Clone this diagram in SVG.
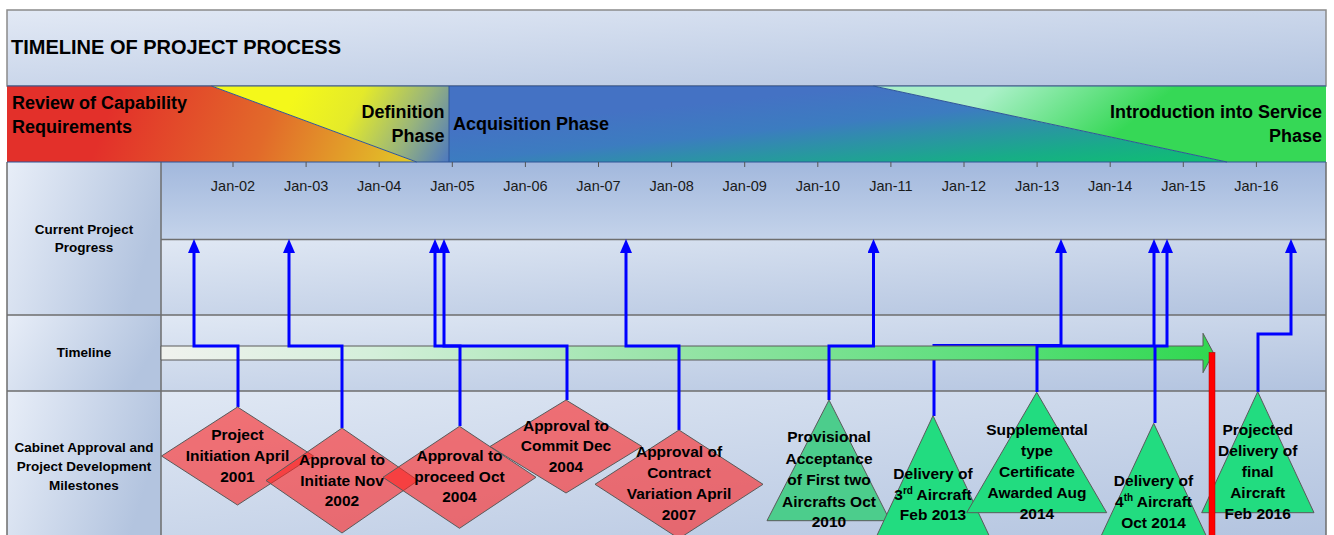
<svg xmlns="http://www.w3.org/2000/svg" width="1334" height="535" viewBox="0 0 1334 535">
<defs>
  <linearGradient id="gTitle" x1="0" y1="0" x2="1" y2="1">
    <stop offset="0" stop-color="#e2e9f5"/><stop offset="1" stop-color="#b3c4e0"/>
  </linearGradient>
  <linearGradient id="gMonths" x1="0" y1="0" x2="0" y2="1">
    <stop offset="0" stop-color="#a2b8dd"/><stop offset="1" stop-color="#c4d3ea"/>
  </linearGradient>
  <linearGradient id="gPale" x1="0" y1="0" x2="1" y2="1">
    <stop offset="0" stop-color="#e0e8f4"/><stop offset="1" stop-color="#b2c3df"/>
  </linearGradient>
  <linearGradient id="gLeft" x1="0" y1="0" x2="1" y2="0.3">
    <stop offset="0" stop-color="#e8eef8"/><stop offset="1" stop-color="#b3c4df"/>
  </linearGradient>
  <linearGradient id="gRed" gradientUnits="userSpaceOnUse" x1="120" y1="80" x2="410" y2="185">
    <stop offset="0" stop-color="#e3302a"/><stop offset="0.5" stop-color="#e26a2a"/><stop offset="1" stop-color="#e2cc28"/>
  </linearGradient>
  <linearGradient id="gYellow" gradientUnits="userSpaceOnUse" x1="300" y1="86" x2="449" y2="165">
    <stop offset="0" stop-color="#f4f81a"/><stop offset="0.35" stop-color="#e4ea2a"/><stop offset="0.7" stop-color="#98b47c"/><stop offset="1" stop-color="#4a76c2"/>
  </linearGradient>
  <linearGradient id="gAcq" gradientUnits="userSpaceOnUse" x1="873" y1="86" x2="884" y2="196">
    <stop offset="0" stop-color="#4472c4"/><stop offset="0.3" stop-color="#3c7cc0"/><stop offset="0.5" stop-color="#2c92a6"/><stop offset="0.75" stop-color="#18ac88"/><stop offset="1" stop-color="#0fc070"/>
  </linearGradient>
  <linearGradient id="gIntro" gradientUnits="userSpaceOnUse" x1="1000" y1="84" x2="1070" y2="172">
    <stop offset="0" stop-color="#aaf0c8"/><stop offset="1" stop-color="#36d856"/>
  </linearGradient>
  <linearGradient id="gBar" gradientUnits="userSpaceOnUse" x1="161" y1="0" x2="1213" y2="0">
    <stop offset="0" stop-color="#f0f2ee"/><stop offset="0.2" stop-color="#d4efda"/><stop offset="0.48" stop-color="#98e4a8"/><stop offset="0.8" stop-color="#58de78"/><stop offset="1" stop-color="#30d850"/>
  </linearGradient>
  <marker id="ah" markerUnits="userSpaceOnUse" markerWidth="14" markerHeight="12" viewBox="0 0 14 12" refX="0" refY="6" orient="auto">
    <path d="M0,0 L14,6 L0,12 z" fill="#0000ff"/>
  </marker>
</defs>
<style>
  text { font-family: "Liberation Sans", Arial, sans-serif; fill: #000; }
  .title { font-size: 20px; font-weight: bold; }
  .ph { font-size: 18px; font-weight: bold; }
  .phr { font-size: 18px; font-weight: bold; text-anchor: end; }
  .mon { font-size: 14.5px; text-anchor: middle; fill: #1a1a1a; }
  .rl { font-size: 13.5px; font-weight: bold; text-anchor: middle; }
  .ms { font-size: 15.5px; font-weight: bold; text-anchor: middle; }
  .sup { font-size: 10px; }
  .grid { stroke: #6e6e6e; stroke-width: 1.5; fill: none; }
  .pline { stroke: #2f5597; stroke-width: 1; fill: none; }
  .dia { fill: #fe2322; fill-opacity: 0.6; stroke: #5a5a5a; stroke-width: 1; }
  .tri { fill: #22dc80; stroke: #5a5a5a; stroke-width: 1; }
  .tri1 { fill: #4ccd8c; stroke: #5a5a5a; stroke-width: 1; }
  .con { fill: none; stroke: #0000ff; stroke-width: 3; marker-end: url(#ah); }
  .tick { stroke: #555; stroke-width: 1; }
</style>

<g id="background">
  <rect x="7" y="10" width="1319" height="76" fill="url(#gTitle)" stroke="#8a8a8a" stroke-width="1.5"/>
  <rect x="7" y="162" width="154" height="153" fill="url(#gLeft)"/>
  <rect x="7" y="315" width="154" height="76" fill="url(#gLeft)"/>
  <rect x="7" y="391" width="154" height="150" fill="url(#gLeft)"/>
  <rect x="161" y="162" width="1165" height="77" fill="url(#gMonths)"/>
  <rect x="161" y="239" width="1165" height="76" fill="url(#gPale)"/>
  <rect x="161" y="315" width="1165" height="76" fill="url(#gPale)"/>
  <rect x="161" y="391" width="1165" height="150" fill="url(#gPale)"/>
  <path class="grid" d="M7,162 V540 M1326,162 V540 M161,162 V540 M161,239.5 H1326 M7,315 H1326 M7,391 H1326"/>
</g>

<g id="title">
  <text class="title" x="11" y="54">TIMELINE OF PROJECT PROCESS</text>
</g>

<g id="phases">
  <g id="phase-review">
    <path d="M7,86 H211.5 L416.7,162 H7 Z" fill="url(#gRed)"/>
    <text class="ph" x="12" y="109">Review of Capability</text>
    <text class="ph" x="12" y="133">Requirements</text>
  </g>
  <g id="phase-definition">
    <path d="M211.5,86 H449 V162 H416.7 Z" fill="url(#gYellow)"/>
    <text class="phr" x="444.5" y="118">Definition</text>
    <text class="phr" x="444.5" y="142">Phase</text>
  </g>
  <g id="phase-acquisition">
    <path d="M449,86 H873.5 L1227,162 H449 Z" fill="url(#gAcq)"/>
    <text class="ph" x="453" y="130">Acquisition Phase</text>
  </g>
  <g id="phase-intro">
    <path d="M873.5,86 H1326 V162 H1227 Z" fill="url(#gIntro)"/>
    <text class="phr" x="1322" y="118">Introduction into Service</text>
    <text class="phr" x="1322" y="142">Phase</text>
  </g>
  <path class="pline" d="M7,86 H1326 M7,162 H1326 M449,86 V162 M211.5,86 L416.7,162 M873.5,86 L1227,162"/>
</g>

<g id="axis">
  <path class="tick" d="M233,162 v5 M306.1,162 v5 M379.2,162 v5 M452.3,162 v5 M525.4,162 v5 M598.5,162 v5 M671.6,162 v5 M744.7,162 v5 M817.8,162 v5 M890.9,162 v5 M964,162 v5 M1037.1,162 v5 M1110.2,162 v5 M1183.3,162 v5 M1256.4,162 v5"/>
  <text class="mon" x="233" y="191">Jan-02</text>
  <text class="mon" x="306.1" y="191">Jan-03</text>
  <text class="mon" x="379.2" y="191">Jan-04</text>
  <text class="mon" x="452.3" y="191">Jan-05</text>
  <text class="mon" x="525.4" y="191">Jan-06</text>
  <text class="mon" x="598.5" y="191">Jan-07</text>
  <text class="mon" x="671.6" y="191">Jan-08</text>
  <text class="mon" x="744.7" y="191">Jan-09</text>
  <text class="mon" x="817.8" y="191">Jan-10</text>
  <text class="mon" x="890.9" y="191">Jan-11</text>
  <text class="mon" x="964" y="191">Jan-12</text>
  <text class="mon" x="1037.1" y="191">Jan-13</text>
  <text class="mon" x="1110.2" y="191">Jan-14</text>
  <text class="mon" x="1183.3" y="191">Jan-15</text>
  <text class="mon" x="1256.4" y="191">Jan-16</text>
</g>

<g id="row-labels">
  <text class="rl" x="84" y="234">Current Project</text>
  <text class="rl" x="84" y="252">Progress</text>
  <text class="rl" x="84" y="357">Timeline</text>
  <text class="rl" x="84" y="452">Cabinet Approval and</text>
  <text class="rl" x="84" y="471">Project Development</text>
  <text class="rl" x="84" y="490">Milestones</text>
</g>

<g id="connectors-under">
  <path class="con" d="M934,416 V345.5 H1061 V253"/>
</g>

<g id="timeline-arrow">
  <path d="M161,346 H1203 V333.3 L1213.5,353 L1203,372.7 V360 H161 Z" fill="url(#gBar)" stroke="#5a5a5a" stroke-width="1"/>
</g>

<g id="connectors">
  <path class="con" d="M238,407 V346 H194 V253"/>
  <path class="con" d="M342,428 V346 H289 V253"/>
  <path class="con" d="M460,426 V346 H435 V253"/>
  <path class="con" d="M567,400 V346 H444 V253"/>
  <path class="con" d="M679,430 V346 H626 V253"/>
  <path class="con" d="M829,400 V346 H873.5 V253"/>
  <path class="con" d="M1037,392 V346 H1154 V253"/>
  <path class="con" d="M1155,423 V346 H1167 V253"/>
  <path class="con" d="M1258,392 V334 H1291 V253"/>
</g>

<g id="m-initiation">
  <polygon class="dia" points="237.5,407 313.5,456 237.5,505 161.5,456"/>
  <text class="ms" x="237.5" y="440">Project</text>
  <text class="ms" x="237.5" y="461">Initiation April</text>
  <text class="ms" x="237.5" y="481.7">2001</text>
</g>
<g id="m-initiate">
  <polygon class="dia" points="342,428 418,480.5 342,533 266,480.5"/>
  <text class="ms" x="342" y="465">Approval to</text>
  <text class="ms" x="342" y="485.7">Initiate Nov</text>
  <text class="ms" x="342" y="506">2002</text>
</g>
<g id="m-proceed">
  <polygon class="dia" points="459.5,426.3 536,477.3 459.5,528.3 383,477.3"/>
  <text class="ms" x="459.5" y="461">Approval to</text>
  <text class="ms" x="459.5" y="481.7">proceed Oct</text>
  <text class="ms" x="459.5" y="502.3">2004</text>
</g>
<g id="m-commit">
  <polygon class="dia" points="566,400 642,446.5 566,493 490,446.5"/>
  <text class="ms" x="566" y="430.7">Approval to</text>
  <text class="ms" x="566" y="451">Commit Dec</text>
  <text class="ms" x="566" y="471.7">2004</text>
</g>
<g id="m-variation">
  <polygon class="dia" points="679,430 763,484.3 679,538.6 595,484.3"/>
  <text class="ms" x="679" y="457.3">Approval of</text>
  <text class="ms" x="679" y="478.3">Contract</text>
  <text class="ms" x="679" y="499.3">Variation April</text>
  <text class="ms" x="679" y="520">2007</text>
</g>

<g id="m-provisional">
  <polygon class="tri1" points="829,400 890,520.7 767,520.7"/>
  <text class="ms" x="829" y="442.3">Provisional</text>
  <text class="ms" x="829" y="463.5">Acceptance</text>
  <text class="ms" x="829" y="485">of First two</text>
  <text class="ms" x="829" y="506.5">Aircrafts Oct</text>
  <text class="ms" x="829" y="527">2010</text>
</g>
<g id="m-third">
  <polygon class="tri" points="933,415.7 993.5,545 872.5,545"/>
  <text class="ms" x="933" y="479">Delivery of</text>
  <text class="ms" x="933" y="500">3<tspan class="sup" dy="-6">rd</tspan><tspan dy="6"> Aircraft</tspan></text>
  <text class="ms" x="933" y="520">Feb 2013</text>
</g>
<g id="m-supplemental">
  <polygon class="tri" points="1036.7,392.3 1106.7,512.7 966.7,512.7"/>
  <text class="ms" x="1037" y="435">Supplemental</text>
  <text class="ms" x="1037" y="456">type</text>
  <text class="ms" x="1037" y="477.3">Certificate</text>
  <text class="ms" x="1037" y="498.3">Awarded Aug</text>
  <text class="ms" x="1037" y="518.5">2014</text>
</g>
<g id="m-fourth">
  <polygon class="tri" points="1153.7,423.3 1210.5,545 1096.9,545"/>
  <text class="ms" x="1153.5" y="486">Delivery of</text>
  <text class="ms" x="1153.5" y="506.7">4<tspan class="sup" dy="-6">th</tspan><tspan dy="6"> Aircraft</tspan></text>
  <text class="ms" x="1153.5" y="527.7">Oct 2014</text>
</g>
<g id="m-final">
  <polygon class="tri" points="1257.7,391.7 1314,512.7 1201.7,512.7"/>
  <text class="ms" x="1257.7" y="435">Projected</text>
  <text class="ms" x="1257.7" y="456">Delivery of</text>
  <text class="ms" x="1257.7" y="477.3">final</text>
  <text class="ms" x="1257.7" y="498.3">Aircraft</text>
  <text class="ms" x="1257.7" y="518.5">Feb 2016</text>
</g>

<g id="today-marker">
  <rect x="1209" y="352.5" width="6" height="190" fill="#ff0000" stroke="#b00000" stroke-width="0.5"/>
</g>
</svg>
